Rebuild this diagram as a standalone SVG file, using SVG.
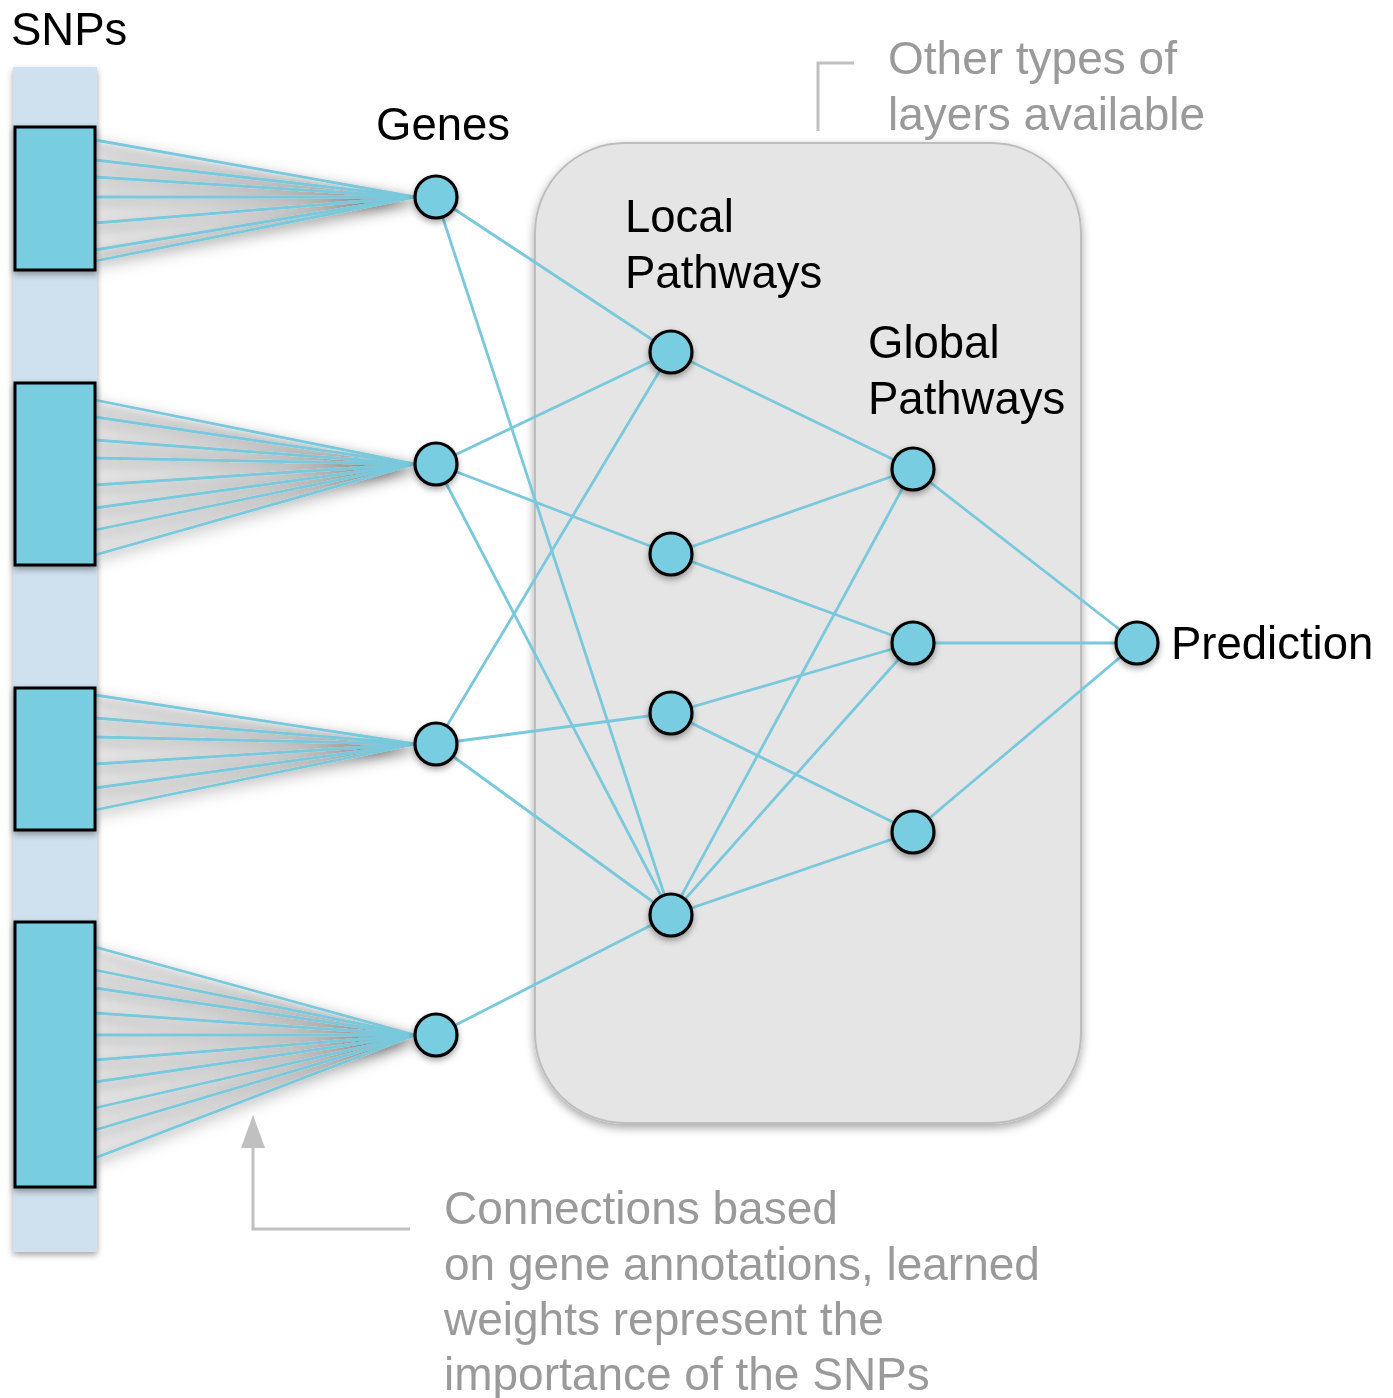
<svg xmlns="http://www.w3.org/2000/svg" width="1393" height="1398" viewBox="0 0 1393 1398">
<defs>
<filter id="sh" x="-30%" y="-30%" width="160%" height="160%">
<feDropShadow dx="0" dy="3" stdDeviation="3" flood-color="#000" flood-opacity="0.35"/>
</filter>
<filter id="boxsh" x="-10%" y="-10%" width="120%" height="120%">
<feDropShadow dx="0" dy="4" stdDeviation="5" flood-color="#000" flood-opacity="0.35"/>
</filter>
<filter id="fansh" x="-10%" y="-20%" width="120%" height="140%">
<feDropShadow dx="0" dy="5" stdDeviation="7" flood-color="#000" flood-opacity="0.5"/>
</filter>
<filter id="blur" x="-10%" y="-20%" width="120%" height="140%">
<feGaussianBlur stdDeviation="4"/>
</filter>
<linearGradient id="wedge" x1="0" y1="0" x2="1" y2="0">
<stop offset="0" stop-color="#e4e4e4"/>
<stop offset="0.8" stop-color="#dcdcdc"/>
<stop offset="1" stop-color="#c8c8c8"/>
</linearGradient>
<style>
.lbl{font-family:"Liberation Sans",Arial,sans-serif;font-size:45.5px;fill:#000}
.note{font-family:"Liberation Sans",Arial,sans-serif;font-size:46px;fill:#9a9a9a}
.conn line{stroke:#79c8dc;stroke-width:2.8}
.fan line{stroke:#79c8dc;stroke-width:2.8}
.wedge{fill:url(#wedge);opacity:0.8}
.node{fill:#79cde0;stroke:#000;stroke-width:3.2}
.snp{fill:#79cde0;stroke:#000;stroke-width:3}
.guide{fill:none;stroke:#c0c0c0;stroke-width:3}
</style>
</defs>
<rect width="1393" height="1398" fill="#fff"/>

<g id="pathway-box">
<rect x="535" y="143" width="546" height="980" rx="90" ry="90" fill="#e5e5e5" stroke="#bdbdbd" stroke-width="2" filter="url(#boxsh)"/>
</g>

<g id="snp-strip">
<rect x="13" y="67" width="84" height="1185" fill="#cfe0ee" filter="url(#sh)"/>
</g>

<g id="connectors">
<g filter="url(#blur)">
<polygon class="wedge" points="95,142 415,199 95,265"/>
<polygon class="wedge" points="95,402 415,466 95,559"/>
<polygon class="wedge" points="95,697 415,746 95,814"/>
<polygon class="wedge" points="95,949 415,1037 95,1163"/>
</g>
<g class="fan" filter="url(#fansh)">
<line x1="95" y1="140" x2="415" y2="197"/>
<line x1="95" y1="160" x2="415" y2="197"/>
<line x1="95" y1="177" x2="415" y2="197"/>
<line x1="95" y1="197" x2="415" y2="197"/>
<line x1="95" y1="223" x2="415" y2="197"/>
<line x1="95" y1="250" x2="415" y2="197"/>
<line x1="95" y1="261" x2="415" y2="197"/>

<line x1="95" y1="400" x2="415" y2="464"/>
<line x1="95" y1="417" x2="415" y2="464"/>
<line x1="95" y1="440" x2="415" y2="464"/>
<line x1="95" y1="458" x2="415" y2="464"/>
<line x1="95" y1="485" x2="415" y2="464"/>
<line x1="95" y1="508" x2="415" y2="464"/>
<line x1="95" y1="530" x2="415" y2="464"/>
<line x1="95" y1="555" x2="415" y2="464"/>

<line x1="95" y1="695" x2="415" y2="744"/>
<line x1="95" y1="718" x2="415" y2="744"/>
<line x1="95" y1="737" x2="415" y2="744"/>
<line x1="95" y1="764" x2="415" y2="744"/>
<line x1="95" y1="788" x2="415" y2="744"/>
<line x1="95" y1="810" x2="415" y2="744"/>

<line x1="95" y1="947" x2="415" y2="1035"/>
<line x1="95" y1="970" x2="415" y2="1035"/>
<line x1="95" y1="988" x2="415" y2="1035"/>
<line x1="95" y1="1013" x2="415" y2="1035"/>
<line x1="95" y1="1035" x2="415" y2="1035"/>
<line x1="95" y1="1060" x2="415" y2="1035"/>
<line x1="95" y1="1082" x2="415" y2="1035"/>
<line x1="95" y1="1108" x2="415" y2="1035"/>
<line x1="95" y1="1130" x2="415" y2="1035"/>
<line x1="95" y1="1158" x2="415" y2="1035"/>
</g>
<g class="conn">
<line x1="436" y1="197" x2="671" y2="352"/>
<line x1="436" y1="197" x2="671" y2="915"/>
<line x1="436" y1="464" x2="671" y2="352"/>
<line x1="436" y1="464" x2="671" y2="554"/>
<line x1="436" y1="464" x2="671" y2="915"/>
<line x1="436" y1="744" x2="671" y2="352"/>
<line x1="436" y1="744" x2="671" y2="713"/>
<line x1="436" y1="744" x2="671" y2="915"/>
<line x1="436" y1="1035" x2="671" y2="915"/>
<line x1="671" y1="352" x2="913" y2="469"/>
<line x1="671" y1="554" x2="913" y2="469"/>
<line x1="671" y1="554" x2="913" y2="643"/>
<line x1="671" y1="713" x2="913" y2="643"/>
<line x1="671" y1="713" x2="913" y2="832"/>
<line x1="671" y1="915" x2="913" y2="469"/>
<line x1="671" y1="915" x2="913" y2="643"/>
<line x1="671" y1="915" x2="913" y2="832"/>
<line x1="913" y1="469" x2="1137" y2="643"/>
<line x1="913" y1="643" x2="1137" y2="643"/>
<line x1="913" y1="832" x2="1137" y2="643"/>
</g>
</g>

<g id="snp-blocks">
<rect id="snp1" class="snp" x="15" y="127" width="80" height="143" filter="url(#sh)"/>
<rect id="snp2" class="snp" x="15" y="383" width="80" height="182" filter="url(#sh)"/>
<rect id="snp3" class="snp" x="15" y="688" width="80" height="142" filter="url(#sh)"/>
<rect id="snp4" class="snp" x="15" y="922" width="80" height="265" filter="url(#sh)"/>
</g>

<g id="gene1"><circle class="node" cx="436" cy="197" r="21" filter="url(#sh)"/></g>
<g id="gene2"><circle class="node" cx="436" cy="464" r="21" filter="url(#sh)"/></g>
<g id="gene3"><circle class="node" cx="436" cy="744" r="21" filter="url(#sh)"/></g>
<g id="gene4"><circle class="node" cx="436" cy="1035" r="21" filter="url(#sh)"/></g>
<g id="local1"><circle class="node" cx="671" cy="352" r="21" filter="url(#sh)"/></g>
<g id="local2"><circle class="node" cx="671" cy="554" r="21" filter="url(#sh)"/></g>
<g id="local3"><circle class="node" cx="671" cy="713" r="21" filter="url(#sh)"/></g>
<g id="local4"><circle class="node" cx="671" cy="915" r="21" filter="url(#sh)"/></g>
<g id="global1"><circle class="node" cx="913" cy="469" r="21" filter="url(#sh)"/></g>
<g id="global2"><circle class="node" cx="913" cy="643" r="21" filter="url(#sh)"/></g>
<g id="global3"><circle class="node" cx="913" cy="832" r="21" filter="url(#sh)"/></g>
<g id="prediction"><circle class="node" cx="1137" cy="643" r="21" filter="url(#sh)"/>
<text class="lbl" x="1171" y="659">Prediction</text></g>

<g id="labels">
<text class="lbl" x="11" y="45">SNPs</text>
<text class="lbl" x="376" y="140">Genes</text>
<text class="lbl" x="625" y="232">Local</text>
<text class="lbl" x="625" y="288">Pathways</text>
<text class="lbl" x="868" y="358">Global</text>
<text class="lbl" x="868" y="414">Pathways</text>
</g>

<g id="annotation-top">
<polyline class="guide" points="854,63 818,63 818,131"/>
<text class="note" x="888" y="74">Other types of</text>
<text class="note" x="888" y="130">layers available</text>
</g>

<g id="annotation-bottom">
<polyline class="guide" points="410,1229 253,1229 253,1140"/>
<path d="M253,1115 L241,1148 L265,1148 Z" fill="#c0c0c0"/>
<text class="note" x="444" y="1224">Connections based</text>
<text class="note" x="444" y="1280">on gene annotations, learned</text>
<text class="note" x="444" y="1335">weights represent the</text>
<text class="note" x="444" y="1390">importance of the SNPs</text>
</g>
</svg>
